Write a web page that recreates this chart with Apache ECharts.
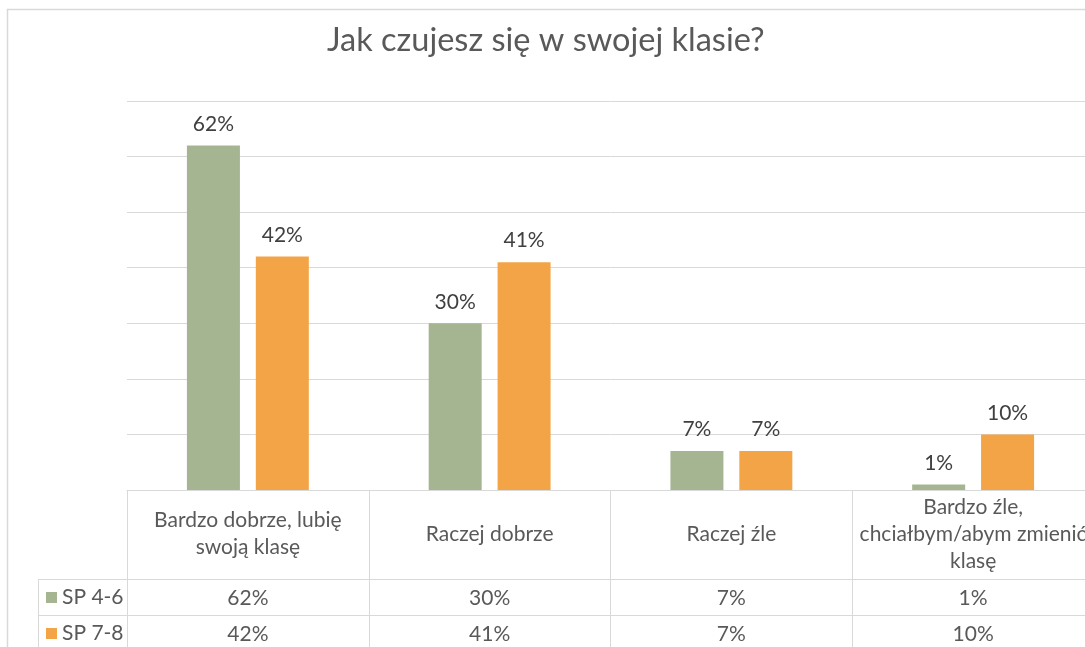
<!DOCTYPE html>
<html>
<head>
<meta charset="utf-8">
<script src="https://cdn.jsdelivr.net/npm/echarts@6/dist/echarts.min.js"></script>
<style>
  html, body { margin: 0; padding: 0; background: #fff; overflow: hidden; }
  #chart { width: 1110px; height: 647px; }
</style>
</head>
<body>
<div id="chart"></div>
<script>
const categories = [
  'Bardzo dobrze, lubię\nswoją klasę',
  'Raczej dobrze',
  'Raczej źle',
  'Bardzo źle,\nchciałbym/abym zmienić\nklasę'
]
const seriesNames = ['SP 4-6', 'SP 7-8']
const sp46 = [62, 30, 7, 1]
const sp78 = [42, 41, 7, 10]

const FONT = 'Lato, "Noto Sans", sans-serif'
const lineColor = '#d9d9d9'
const textColor = '#595959'
const colors = ['#a5b592', '#f3a447']

const chart = echarts.init(document.getElementById('chart'))

// the data table rows are extra category axes pushed below the plot
const tableAxis = (values, offset) => ({
  type: 'category',
  data: categories,
  position: 'bottom',
  gridIndex: 0,
  offset: offset,
  axisLine: { show: true, lineStyle: { color: lineColor } },
  axisTick: { show: false },
  axisLabel: {
    interval: 0,
    margin: 19,
    verticalAlign: 'middle',
    color: textColor,
    fontFamily: FONT,
    fontSize: 21,
    formatter: (v, i) => values[i] + '%'
  }
})

chart.setOption({
  animation: false,
  textStyle: { fontFamily: FONT },
  title: {
    text: 'Jak czujesz się w swojej klasie?',
    left: 322,
    top: 19,
    textStyle: { color: textColor, fontFamily: FONT, fontSize: 32.5, fontWeight: 'normal' }
  },
  legend: {
    orient: 'vertical',
    left: 46,
    top: 587,
    padding: 0,
    itemWidth: 11,
    itemHeight: 11,
    itemGap: 15,
    icon: 'rect',
    textStyle: { color: textColor, fontFamily: FONT, fontSize: 21, lineHeight: 21 },
    data: seriesNames
  },
  grid: { left: 127, top: 101, width: 967, height: 389, containLabel: false },
  xAxis: [
    {
      type: 'category',
      data: categories,
      position: 'bottom',
      axisLine: { show: true, lineStyle: { color: lineColor } },
      axisTick: { show: true, interval: 0, length: 161, lineStyle: { color: lineColor } },
      axisLabel: {
        interval: 0,
        margin: 44,
        verticalAlign: 'middle',
        align: 'center',
        color: textColor,
        fontFamily: FONT,
        fontSize: 21,
        lineHeight: 27
      }
    },
    tableAxis(sp46, 89),
    tableAxis(sp78, 125)
  ],
  yAxis: {
    type: 'value',
    min: 0,
    max: 70,
    interval: 10,
    axisLabel: { show: false },
    axisLine: { show: false },
    axisTick: { show: false },
    splitLine: { lineStyle: { color: lineColor } }
  },
  series: [
    {
      name: seriesNames[0],
      type: 'bar',
      data: sp46,
      barWidth: 53,
      barGap: '30%',
      itemStyle: { color: colors[0] },
      label: {
        show: true, position: 'top', distance: 11,
        color: '#404040', fontFamily: FONT, fontSize: 21,
        formatter: p => p.value + '%'
      }
    },
    {
      name: seriesNames[1],
      type: 'bar',
      data: sp78,
      barWidth: 53,
      barGap: '30%',
      itemStyle: { color: colors[1] },
      label: {
        show: true, position: 'top', distance: 11,
        color: '#404040', fontFamily: FONT, fontSize: 21,
        formatter: p => p.value + '%'
      }
    }
  ],
  graphic: [
    // chart area border
    { type: 'rect', shape: { x: 7.5, y: 9.5, width: 1200, height: 800 },
      style: { fill: null, stroke: lineColor, lineWidth: 1.5 }, silent: true },
    // legend column of the data table
    { type: 'line', shape: { x1: 38, y1: 579.5, x2: 127, y2: 579.5 }, style: { stroke: lineColor } },
    { type: 'line', shape: { x1: 38, y1: 615.5, x2: 127, y2: 615.5 }, style: { stroke: lineColor } },
    { type: 'line', shape: { x1: 38, y1: 651.5, x2: 127, y2: 651.5 }, style: { stroke: lineColor } },
    { type: 'line', shape: { x1: 38.5, y1: 579, x2: 38.5, y2: 652 }, style: { stroke: lineColor } }
  ]
})
</script>
</body>
</html>
